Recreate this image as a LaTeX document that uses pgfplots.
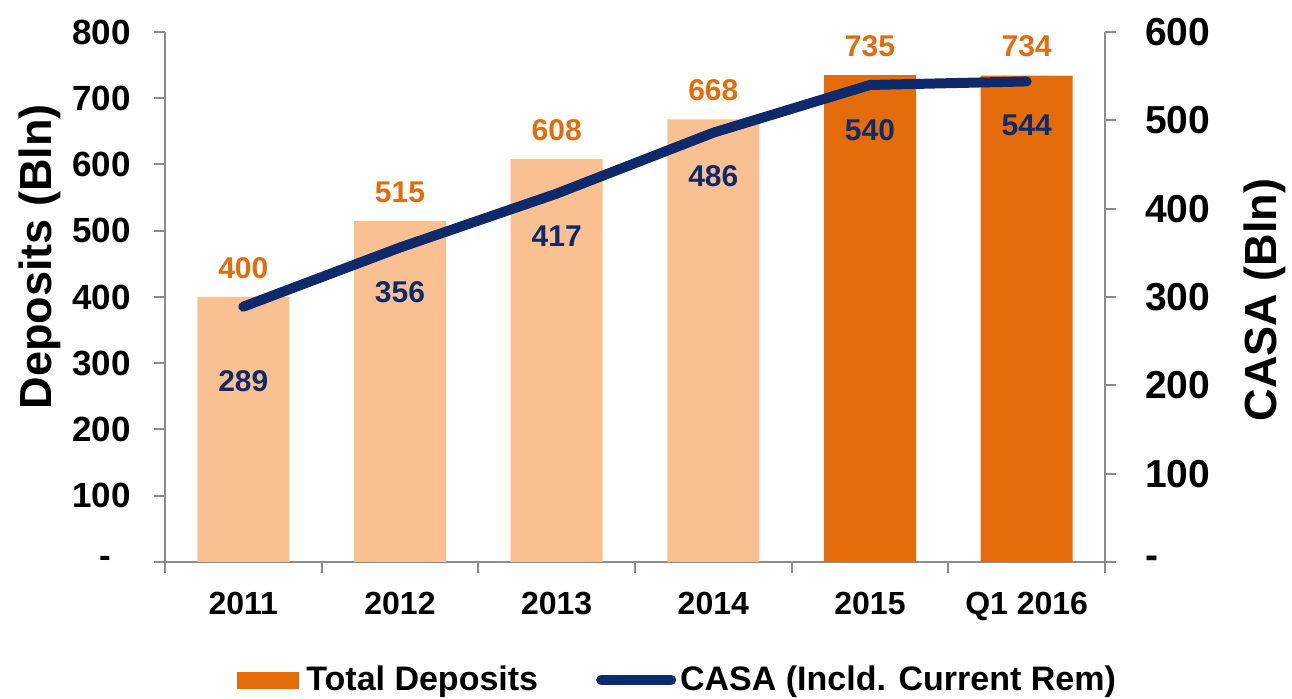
\documentclass[border=0pt]{standalone}
\usepackage{fontspec}
\setmainfont{Liberation Sans}
\usepackage{pgfplots}
\usepackage{pgfplotstable}
\pgfplotsset{compat=1.18}
\usetikzlibrary{calc}
\definecolor{lightOr}{HTML}{F9C191}
\definecolor{darkOr}{HTML}{E46C0A}
\definecolor{navy}{HTML}{0E2A6B}
\definecolor{axgray}{HTML}{8C8C8C}

% deposits, in Bln
\pgfplotstableread{
x y
0 400
1 515
2 608
3 668
}\depold
\pgfplotstableread{
x y
4 735
5 734
}\depnew
% CASA, in Bln; s = label offset (pt)
\pgfplotstableread{
x y s
0 289 -37
1 356 -22.5
2 417 -21.5
3 486 -22
4 540 -22.5
5 544 -22
}\casa

\begin{document}
\begin{tikzpicture}[font=\bfseries]
\pgfplotsset{
  common/.style={
    scale only axis, width=470pt, height=265pt,
    xmin=-0.5, xmax=5.5,
    /pgf/number format/assume math mode=true,
    /pgf/number format/1000 sep={},
    axis line style={axgray, line width=1pt},
    tick style={axgray, line width=1pt},
    tick align=outside, major tick length=5.5pt,
  }
}
\begin{axis}[common, ymin=0, ymax=800,
  axis x line*=bottom, axis y line*=left,
  xtick={-0.5,0.5,1.5,2.5,3.5,4.5,5.5}, xticklabels={},
  extra x ticks={0,1,2,3,4,5},
  extra x tick labels={2011,2012,2013,2014,2015,Q1 2016},
  extra x tick style={major tick length=0pt, grid=none},
  xticklabel style={font=\fontsize{16}{16}\bfseries, yshift=-11.5pt},
  ytick={0,100,...,800},
  yticklabels={-\hphantom{0},100,200,300,400,500,600,700,800},
  yticklabel style={font=\fontsize{17.5}{17.5}\bfseries, xshift=-8pt},
  ylabel={Deposits (Bln)},
  every axis y label/.style={at={(rel axis cs:0,0.576)}, xshift=-62.5pt,
    rotate=90, anchor=center, font=\fontsize{22.5}{22.5}\bfseries},
  nodes near coords,
  every node near coord/.append style={darkOr, font=\fontsize{15}{15}\bfseries,
    anchor=south, inner sep=0pt, yshift=9pt},
]
\addplot[ybar, bar width=46pt, bar shift=0pt, fill=lightOr, draw=none] table {\depold};
\addplot[ybar, bar width=46pt, bar shift=0pt, fill=darkOr, draw=none] table {\depnew};
\coordinate (bl) at (rel axis cs:0,0);
\coordinate (tr) at (rel axis cs:1,1);
\end{axis}
\begin{axis}[common, ymin=0, ymax=600,
  axis x line=none, axis y line*=right,
  ytick={0,100,...,600},
  yticklabels={-,100,200,300,400,500,600},
  yticklabel style={font=\fontsize{19.5}{19.5}\bfseries, xshift=11pt},
  ylabel={CASA (Bln)},
  every axis y label/.style={at={(rel axis cs:1,0.494)}, xshift=80pt,
    rotate=90, anchor=center, font=\fontsize{22.5}{22.5}\bfseries},
  legend style={at={(0.546,-0.2226)}, anchor=center, draw=none, fill=none,
    font=\fontsize{17}{17}\bfseries, legend columns=2,
    /tikz/every even column/.append style={column sep=27pt}},
]
\addlegendimage{legend image code/.code={\fill[darkOr] (0pt,-4pt) rectangle (30.5pt,4pt);}}
\addlegendentry{\hspace{2pt}Total Deposits}
\addplot[navy, line width=5pt, line cap=round, line join=round, mark=none,
  nodes near coords,
  visualization depends on={\thisrow{s}\as\sh},
  every node near coord/.append style={navy, font=\fontsize{15}{15}\bfseries,
    anchor=center, yshift=\sh pt},
  legend image code/.code={\draw[navy, line width=5pt, line cap=round] (2pt,0pt) -- (37pt,0pt);}]
  table[x=x, y=y] {\casa};
\addlegendentry{CASA (Incld. Current Rem)}
\end{axis}
\pgfresetboundingbox
\path[use as bounding box] ($(bl)+(-82.5pt,-68.5pt)$) rectangle ($(tr)+(93.5pt,16pt)$);
\end{tikzpicture}
\end{document}
